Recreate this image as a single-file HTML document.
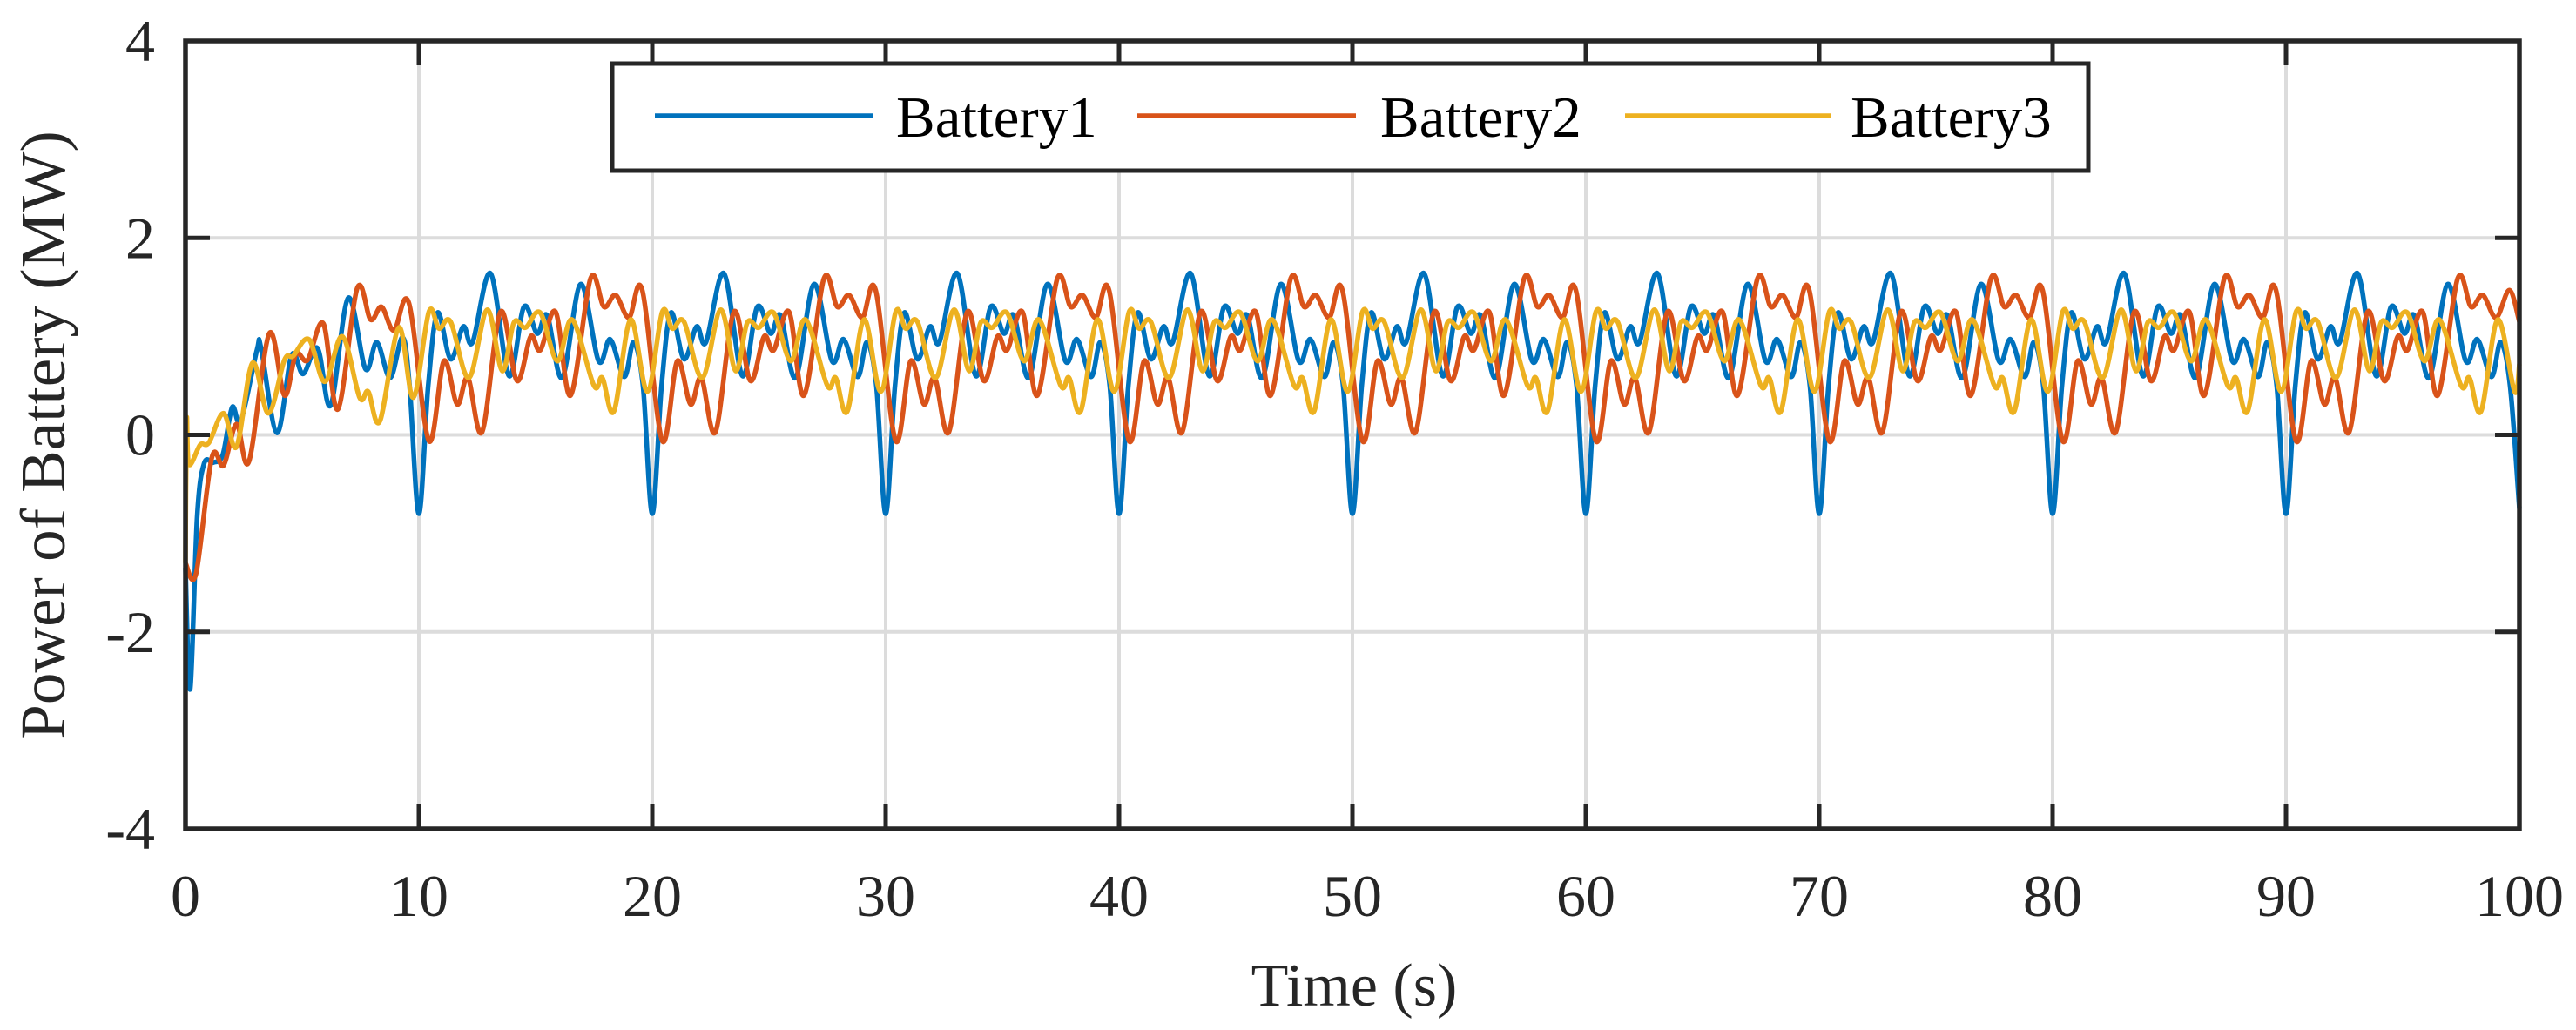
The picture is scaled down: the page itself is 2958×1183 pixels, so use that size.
<!DOCTYPE html>
<html><head><meta charset="utf-8"><style>
html,body{margin:0;padding:0;background:#fff;}
svg{display:block;font-family:"Liberation Serif",serif;}
</style></head><body>
<svg id="chart" width="2958" height="1183" viewBox="0 0 2958 1183" xmlns="http://www.w3.org/2000/svg">
<rect width="2958" height="1183" fill="#fff"/>
<g id="grid"></g>
<g id="series"></g>
<g id="axes"></g>
<text transform="translate(74,500) rotate(-90)" text-anchor="middle" font-size="73" fill="#262626">Power of Battery (MW)</text>
<text x="1555" y="1155" text-anchor="middle" font-size="70" fill="#262626">Time (s)</text>
<g>
<rect x="703" y="73" width="1695" height="123" fill="#fff" stroke="#262626" stroke-width="5"/>
<line x1="752" y1="133" x2="1003" y2="133" stroke="#0072BD" stroke-width="5.5"/>
<text x="1029" y="157" font-size="67" fill="#000">Battery1</text>
<line x1="1306" y1="133" x2="1557" y2="133" stroke="#D95319" stroke-width="5.5"/>
<text x="1585" y="157" font-size="67" fill="#000">Battery2</text>
<line x1="1866" y1="133" x2="2103" y2="133" stroke="#EDB120" stroke-width="5.5"/>
<text x="2125" y="157" font-size="67" fill="#000">Battery3</text>
</g>
</svg>
<script>
const xTicks = [0,10,20,30,40,50,60,70,80,90,100];
const yTicks = [-4,-2,0,2,4];
const xTickLabels = ["0","10","20","30","40","50","60","70","80","90","100"];
const yTickLabels = ["-4","-2","0","2","4"];

const b1T = [0,0.2,0.5,0.8,1.2,1.6,2.0,2.37,3.06,3.24,3.92,4.55,5.04,5.66,6.22,6.97,7.71,8.2,8.77,9.3,9.6,10,
10.4,10.8,11.36,11.9,12.3,13.07,13.86,14.5,15.07,15.5,16.14,16.93,17.7,18.2,18.8,19.2,19.6,20,
20.4,20.8,21.36,21.9,22.3,23.07,23.86,24.5,25.07,25.5,26.14,26.93,27.7,28.2,28.8,29.2,29.6,30,
30.4,30.8,31.36,31.9,32.3,33.07,33.86,34.5,35.07,35.5,36.14,36.93,37.7,38.2,38.8,39.2,39.6,40,
40.4,40.8,41.36,41.9,42.3,43.07,43.86,44.5,45.07,45.5,46.14,46.93,47.7,48.2,48.8,49.2,49.6,50,
50.4,50.8,51.36,51.9,52.3,53.07,53.86,54.5,55.07,55.5,56.14,56.93,57.7,58.2,58.8,59.2,59.6,60,
60.4,60.8,61.36,61.9,62.3,63.07,63.86,64.5,65.07,65.5,66.14,66.93,67.7,68.2,68.8,69.2,69.6,70,
70.4,70.8,71.36,71.9,72.3,73.07,73.86,74.5,75.07,75.5,76.14,76.93,77.7,78.2,78.8,79.2,79.6,80,
80.4,80.8,81.36,81.9,82.3,83.07,83.86,84.5,85.07,85.5,86.14,86.93,87.7,88.2,88.8,89.2,89.6,90,
90.4,90.8,91.36,91.9,92.3,93.07,93.86,94.5,95.07,95.5,96.14,96.93,97.7,98.2,98.8,99.2,99.6,100];
const b1V = [-1.35,-2.58,-0.83,-0.29,-0.28,-0.2,0.28,0.14,0.86,0.88,0.02,0.81,0.62,0.88,0.30,1.39,0.67,0.94,0.58,0.99,0.5,-0.8,
0.5,1.24,0.77,1.10,0.94,1.64,0.60,1.30,1.03,1.21,0.58,1.53,0.75,0.97,0.59,0.94,0.5,-0.8,
0.5,1.24,0.77,1.10,0.94,1.64,0.60,1.30,1.03,1.21,0.58,1.53,0.75,0.97,0.59,0.94,0.5,-0.8,
0.5,1.24,0.77,1.10,0.94,1.64,0.60,1.30,1.03,1.21,0.58,1.53,0.75,0.97,0.59,0.94,0.5,-0.8,
0.5,1.24,0.77,1.10,0.94,1.64,0.60,1.30,1.03,1.21,0.58,1.53,0.75,0.97,0.59,0.94,0.5,-0.8,
0.5,1.24,0.77,1.10,0.94,1.64,0.60,1.30,1.03,1.21,0.58,1.53,0.75,0.97,0.59,0.94,0.5,-0.8,
0.5,1.24,0.77,1.10,0.94,1.64,0.60,1.30,1.03,1.21,0.58,1.53,0.75,0.97,0.59,0.94,0.5,-0.8,
0.5,1.24,0.77,1.10,0.94,1.64,0.60,1.30,1.03,1.21,0.58,1.53,0.75,0.97,0.59,0.94,0.5,-0.8,
0.5,1.24,0.77,1.10,0.94,1.64,0.60,1.30,1.03,1.21,0.58,1.53,0.75,0.97,0.59,0.94,0.5,-0.8,
0.5,1.24,0.77,1.10,0.94,1.64,0.60,1.30,1.03,1.21,0.58,1.53,0.75,0.97,0.59,0.94,0.5,-0.75];

const b2T = [0,0.45,1.13,1.63,2.19,2.72,3.59,4.24,4.73,5.23,5.91,6.53,7.36,7.93,8.4,8.93,9.57,
10.43,11.07,11.64,12.1,12.71,13.5,14.2,14.79,15.2,15.86,16.5,17.36,17.93,18.43,19.0,19.57,
20.43,21.07,21.64,22.1,22.71,23.5,24.2,24.79,25.2,25.86,26.5,27.36,27.93,28.43,29.0,29.57,
30.43,31.07,31.64,32.1,32.71,33.5,34.2,34.79,35.2,35.86,36.5,37.36,37.93,38.43,39.0,39.57,
40.43,41.07,41.64,42.1,42.71,43.5,44.2,44.79,45.2,45.86,46.5,47.36,47.93,48.43,49.0,49.57,
50.43,51.07,51.64,52.1,52.71,53.5,54.2,54.79,55.2,55.86,56.5,57.36,57.93,58.43,59.0,59.57,
60.43,61.07,61.64,62.1,62.71,63.5,64.2,64.79,65.2,65.86,66.5,67.36,67.93,68.43,69.0,69.57,
70.43,71.07,71.64,72.1,72.71,73.5,74.2,74.79,75.2,75.86,76.5,77.36,77.93,78.43,79.0,79.57,
80.43,81.07,81.64,82.1,82.71,83.5,84.2,84.79,85.2,85.86,86.5,87.36,87.93,88.43,89.0,89.57,
90.43,91.07,91.64,92.1,92.71,93.5,94.2,94.79,95.2,95.86,96.5,97.36,97.93,98.43,99.0,99.57,100];
const b2V = [-1.3,-1.41,-0.23,-0.31,0.11,-0.27,1.03,0.4,0.82,0.76,1.13,0.26,1.49,1.17,1.3,1.06,1.34,
-0.06,0.75,0.31,0.58,0.03,1.25,0.55,1.0,0.86,1.25,0.40,1.59,1.3,1.42,1.19,1.47,
-0.06,0.75,0.31,0.58,0.03,1.25,0.55,1.0,0.86,1.25,0.40,1.59,1.3,1.42,1.19,1.47,
-0.06,0.75,0.31,0.58,0.03,1.25,0.55,1.0,0.86,1.25,0.40,1.59,1.3,1.42,1.19,1.47,
-0.06,0.75,0.31,0.58,0.03,1.25,0.55,1.0,0.86,1.25,0.40,1.59,1.3,1.42,1.19,1.47,
-0.06,0.75,0.31,0.58,0.03,1.25,0.55,1.0,0.86,1.25,0.40,1.59,1.3,1.42,1.19,1.47,
-0.06,0.75,0.31,0.58,0.03,1.25,0.55,1.0,0.86,1.25,0.40,1.59,1.3,1.42,1.19,1.47,
-0.06,0.75,0.31,0.58,0.03,1.25,0.55,1.0,0.86,1.25,0.40,1.59,1.3,1.42,1.19,1.47,
-0.06,0.75,0.31,0.58,0.03,1.25,0.55,1.0,0.86,1.25,0.40,1.59,1.3,1.42,1.19,1.47,
-0.06,0.75,0.31,0.58,0.03,1.25,0.55,1.0,0.86,1.25,0.40,1.59,1.3,1.42,1.19,1.47,1.15];

const b3T = [0,0.05,0.15,0.63,1.0,1.63,2.19,2.87,3.55,4.24,4.61,5.29,5.97,6.72,7.46,7.83,8.33,9.14,9.76,
10.43,10.86,11.36,12.14,12.93,13.57,14.07,14.57,15.2,15.93,16.57,17.5,17.86,18.36,19.07,19.79,
20.43,20.86,21.36,22.14,22.93,23.57,24.07,24.57,25.2,25.93,26.57,27.5,27.86,28.36,29.07,29.79,
30.43,30.86,31.36,32.14,32.93,33.57,34.07,34.57,35.2,35.93,36.57,37.5,37.86,38.36,39.07,39.79,
40.43,40.86,41.36,42.14,42.93,43.57,44.07,44.57,45.2,45.93,46.57,47.5,47.86,48.36,49.07,49.79,
50.43,50.86,51.36,52.14,52.93,53.57,54.07,54.57,55.2,55.93,56.57,57.5,57.86,58.36,59.07,59.79,
60.43,60.86,61.36,62.14,62.93,63.57,64.07,64.57,65.2,65.93,66.57,67.5,67.86,68.36,69.07,69.79,
70.43,70.86,71.36,72.14,72.93,73.57,74.07,74.57,75.2,75.93,76.57,77.5,77.86,78.36,79.07,79.79,
80.43,80.86,81.36,82.14,82.93,83.57,84.07,84.57,85.2,85.93,86.57,87.5,87.86,88.36,89.07,89.79,
90.43,90.86,91.36,92.14,92.93,93.57,94.07,94.57,95.2,95.93,96.57,97.5,97.86,98.36,99.07,99.79,100];
const b3V = [-1.3,0.15,-0.3,-0.1,-0.08,0.22,-0.12,0.73,0.22,0.76,0.8,0.97,0.54,1.0,0.38,0.44,0.14,1.09,0.38,
1.25,1.08,1.15,0.58,1.27,0.65,1.14,1.09,1.24,0.75,1.17,0.50,0.58,0.24,1.17,0.44,
1.25,1.08,1.15,0.58,1.27,0.65,1.14,1.09,1.24,0.75,1.17,0.50,0.58,0.24,1.17,0.44,
1.25,1.08,1.15,0.58,1.27,0.65,1.14,1.09,1.24,0.75,1.17,0.50,0.58,0.24,1.17,0.44,
1.25,1.08,1.15,0.58,1.27,0.65,1.14,1.09,1.24,0.75,1.17,0.50,0.58,0.24,1.17,0.44,
1.25,1.08,1.15,0.58,1.27,0.65,1.14,1.09,1.24,0.75,1.17,0.50,0.58,0.24,1.17,0.44,
1.25,1.08,1.15,0.58,1.27,0.65,1.14,1.09,1.24,0.75,1.17,0.50,0.58,0.24,1.17,0.44,
1.25,1.08,1.15,0.58,1.27,0.65,1.14,1.09,1.24,0.75,1.17,0.50,0.58,0.24,1.17,0.44,
1.25,1.08,1.15,0.58,1.27,0.65,1.14,1.09,1.24,0.75,1.17,0.50,0.58,0.24,1.17,0.44,
1.25,1.08,1.15,0.58,1.27,0.65,1.14,1.09,1.24,0.75,1.17,0.50,0.58,0.24,1.17,0.44,0.72];

const NS="http://www.w3.org/2000/svg";
const L=213,R=2893,T=47,B=952;
function xs(t){return L+(t-0)/(100-0)*(R-L);}
function ys(v){return B-(v-(-4))/(4-(-4))*(B-T);}
function mk(tag,attrs,parent){const e=document.createElementNS(NS,tag);for(const k in attrs)e.setAttribute(k,attrs[k]);parent.appendChild(e);return e;}

const grid=document.getElementById('grid'),axes=document.getElementById('axes'),series=document.getElementById('series');
xTicks.forEach((t,i)=>{
  if(t>0&&t<100){const g=mk('line',{x1:xs(t),x2:xs(t),y1:T,y2:B,stroke:'#dcdcdc','stroke-width':4},grid);
  
  }
  const a=mk('line',{x1:xs(t),x2:xs(t),y1:B,y2:B-28,stroke:'#262626','stroke-width':5},axes);
  
  
  const a2=mk('line',{x1:xs(t),x2:xs(t),y1:T,y2:T+28,stroke:'#262626','stroke-width':5},axes);
  
  
  const tx=mk('text',{x:xs(t),y:1052,'text-anchor':'middle','font-size':68,fill:'#262626'},axes);
  tx.textContent=xTickLabels[i];
  
  
});
yTicks.forEach((v,i)=>{
  if(v>-4&&v<4){const g=mk('line',{x1:L,x2:R,y1:ys(v),y2:ys(v),stroke:'#dcdcdc','stroke-width':4},grid);
  
  }
  const a=mk('line',{x1:L,x2:L+28,y1:ys(v),y2:ys(v),stroke:'#262626','stroke-width':5},axes);
  
  
  const a2=mk('line',{x1:R,x2:R-28,y1:ys(v),y2:ys(v),stroke:'#262626','stroke-width':5},axes);
  
  
  const tx=mk('text',{x:178,y:ys(v)+23,'text-anchor':'end','font-size':68,fill:'#262626'},axes);
  tx.textContent=yTickLabels[i];
  
  
});
const frame=mk('rect',{x:L,y:T,width:R-L,height:B-T,fill:'none',stroke:'#262626','stroke-width':5.5},axes);



function pathFor(ts,vs){
  const p=ts.map((t,i)=>[xs(t),ys(vs[i])]);
  let d='M'+p[0][0].toFixed(1)+','+p[0][1].toFixed(1);
  for(let i=0;i<p.length-1;i++){
    const p0=p[Math.max(0,i-1)],p1=p[i],p2=p[i+1],p3=p[Math.min(p.length-1,i+2)];
    const c1x=p1[0]+(p2[0]-p0[0])/6,c1y=p1[1]+(p2[1]-p0[1])/6;
    const c2x=p2[0]-(p3[0]-p1[0])/6,c2y=p2[1]-(p3[1]-p1[1])/6;
    d+=' C'+c1x.toFixed(1)+','+c1y.toFixed(1)+' '+c2x.toFixed(1)+','+c2y.toFixed(1)+' '+p2[0].toFixed(1)+','+p2[1].toFixed(1);
  }
  return d;
}
const s1=mk('path',{d:pathFor(b1T,b1V),fill:'none',stroke:'#0072BD','stroke-width':5.5,'stroke-linejoin':'round'},series);


const s2=mk('path',{d:pathFor(b2T,b2V),fill:'none',stroke:'#D95319','stroke-width':5.5,'stroke-linejoin':'round'},series);


const s3=mk('path',{d:pathFor(b3T,b3V),fill:'none',stroke:'#EDB120','stroke-width':5.5,'stroke-linejoin':'round'},series);


</script>
</body></html>
